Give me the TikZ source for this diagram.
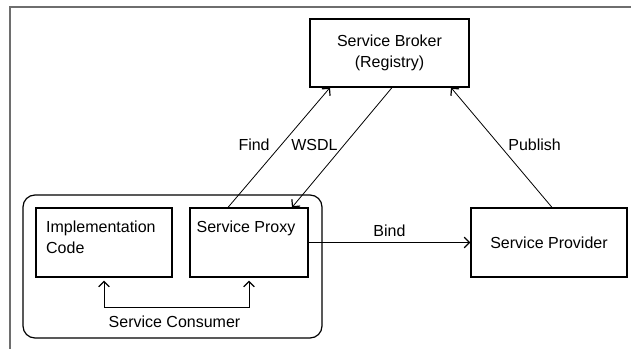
\documentclass[tikz,border=0pt]{standalone}
\usepackage{fontspec}
\setmainfont{Liberation Sans}
\usetikzlibrary{arrows.meta,calc}

\begin{document}
\begin{tikzpicture}[x=0.75pt,y=0.75pt,yscale=-1,xscale=1,
  box/.style={draw, line width=0.9pt, inner sep=0pt, align=center, font=\fontsize{12}{15.75}\selectfont},
  lbl/.style={inner sep=0.75pt, font=\fontsize{12}{15.75}\selectfont},
  tip/.tip={Straight Barb[length=4pt,width=8pt,line width=0.9pt]},
  arr/.style={line width=0.6pt, -tip},
  arrboth/.style={line width=0.6pt, tip-tip, shorten <=2.25pt, shorten >=2.25pt}]
\useasboundingbox (0,0) rectangle (631,349);

%Frame
\draw [color={rgb, 255:red, 110; green, 110; blue, 110 }, line width=1.5pt] (10,349) -- (10,7) -- (631,7) ;

%Boxes
\node [box, minimum width=119.25pt, minimum height=51pt] (broker) at (389.5,53) {Service Broker\\(Registry)};
\node [box, minimum width=117pt, minimum height=51.75pt] (provider) at (549,242.5) {Service Provider};
\node [box, rounded corners=9pt, minimum width=224.25pt, minimum height=107.25pt] (consumer) at (172.5,266.5) {};
\node [box, minimum width=102pt, minimum height=51.75pt] (impl) at (104,242.5) {};
\node [box, minimum width=88.5pt, minimum height=51.75pt] (proxy) at (249,242.5) {};

% Text Node
\node [lbl, anchor=north west, align=left] (impltxt) at ($(impl.north west)+(9.5,12.3)$) {Implementation\\Code};
% Text Node
\node [lbl, anchor=north west, align=left] (proxytxt) at ($(proxy.north west)+(6,12.3)$) {Service Proxy};
% Text Node
\node [lbl] (consumertxt) at ($(consumer.south)+(2,-17)$) {Service Consumer};

%Connectors
\draw [arr] ($(proxy.north)+(-21,0)$) -- node [lbl, pos=0.52, left=7.5pt] {Find} ($(broker.south)+(-59.5,0)$) ;
\draw [arr] ($(broker.south)+(2.5,0)$) -- node [lbl, pos=0.48, left=3.75pt] {WSDL} ($(proxy.north)+(43,0)$) ;
\draw [arr] ($(provider.north)+(3,0)$) -- node [lbl, pos=0.52, right=5.6pt] {Publish} ($(broker.south)+(61.5,0)$) ;
\draw [arr] (proxy.east) -- node [lbl, above=3pt] {Bind} (provider.west) ;
\draw [arrboth] (impl.south) -- ++(0,30) -| (proxy.south) ;

\end{tikzpicture}
\end{document}
